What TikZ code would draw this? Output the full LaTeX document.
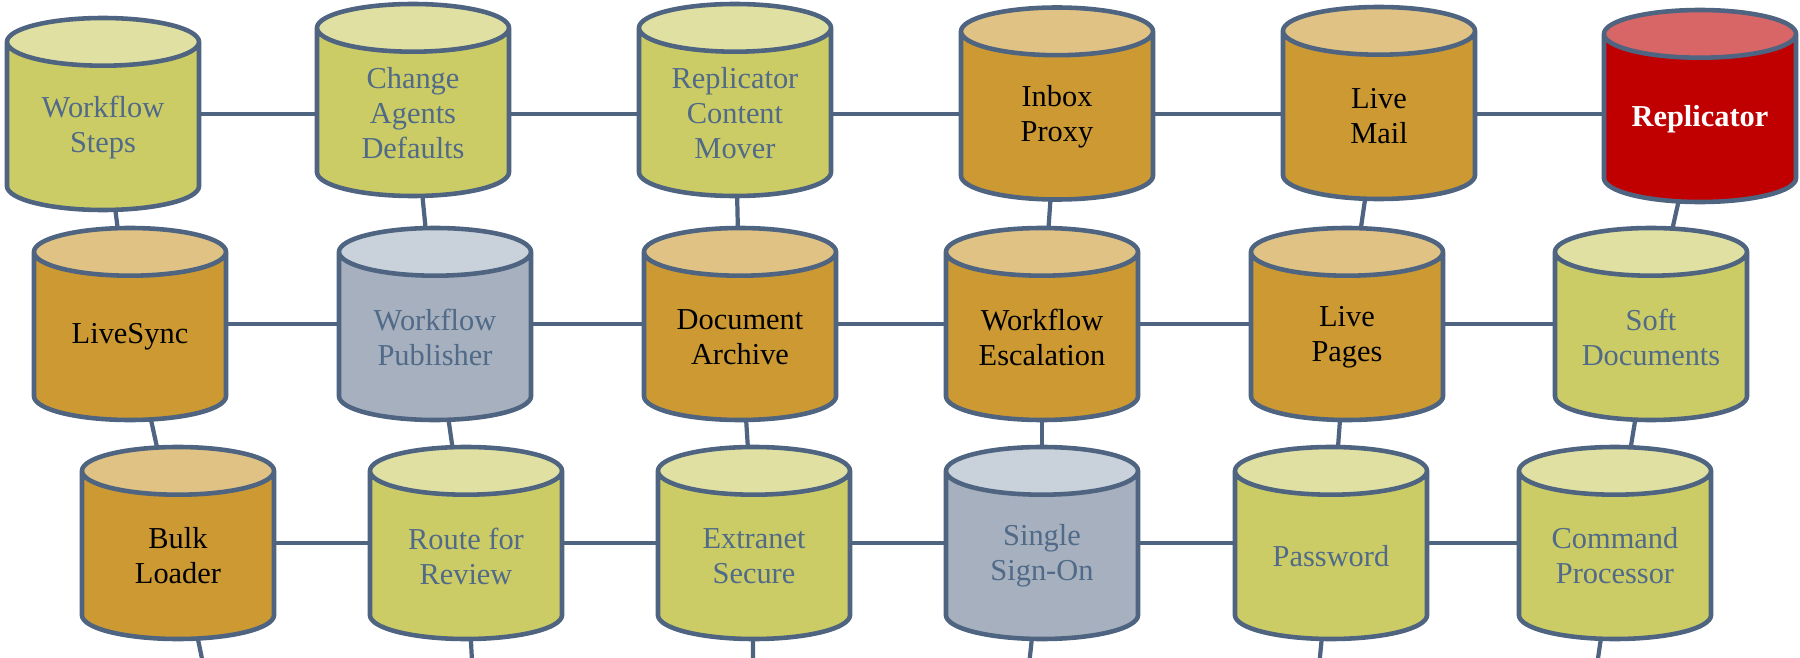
\documentclass[tikz,border=0pt]{standalone}
\usepackage{fontspec}
\setmainfont{Liberation Serif}
\usetikzlibrary{shapes.geometric,backgrounds}
\definecolor{rim}{HTML}{4E6480}
\definecolor{lbl}{HTML}{506A88}
\definecolor{gbody}{HTML}{CCCC66}
\definecolor{gtop}{HTML}{E0E0A3}
\definecolor{obody}{HTML}{CC9933}
\definecolor{otop}{HTML}{E0C285}
\definecolor{sbody}{HTML}{A6B0BE}
\definecolor{stopc}{HTML}{C9D1DB}
\definecolor{rbody}{HTML}{C00000}
\definecolor{rtop}{HTML}{D96666}

\begin{document}
\begin{tikzpicture}[dnode/.style={cylinder, shape border rotate=90, aspect=0.265, draw=rim, line width=1.3pt, text width=1.8cm, minimum width=1.92cm, minimum height=1.92cm, inner sep=0pt, align=flush center, anchor=shape center, cylinder uses custom fill, font=\fontsize{8.65}{9.96}\selectfont},
  gnode/.style={dnode, cylinder body fill=gbody, cylinder end fill=gtop, text=lbl},
  onode/.style={dnode, cylinder body fill=obody, cylinder end fill=otop, text=black},
  snode/.style={dnode, cylinder body fill=sbody, cylinder end fill=stopc, text=lbl},
  rnode/.style={dnode, cylinder body fill=rbody, cylinder end fill=rtop, text=white, font=\fontsize{8.65}{9.96}\selectfont\bfseries},
  link/.style={draw=rim, line width=1.2pt}]
    \useasboundingbox (0,0) rectangle (18,-6.58);

    \node[gnode] (a1) at (1.03,-1.14) {Workflow\\Steps};
    \node[gnode] (a2) at (4.13,-1.00) {Change\\Agents\\Defaults};
    \node[gnode] (a3) at (7.35,-1.00) {Replicator\\Content\\Mover};
    \node[onode] (a4) at (10.57,-1.035) {Inbox\\Proxy};
    \node[onode] (a5) at (13.79,-1.03) {Live\\Mail};
    \node[rnode] (a6) at (17.00,-1.06) {Replicator};

    \node[onode] (b1) at (1.30,-3.24) {LiveSync};
    \node[snode] (b2) at (4.35,-3.24) {Workflow\\Publisher};
    \node[onode] (b3) at (7.40,-3.24) {Document\\Archive};
    \node[onode] (b4) at (10.42,-3.24) {Workflow\\Escalation};
    \node[onode] (b5) at (13.47,-3.24) {Live\\Pages};
    \node[gnode] (b6) at (16.51,-3.24) {Soft\\Documents};

    \node[onode] (c1) at (1.78,-5.43) {Bulk\\Loader};
    \node[gnode] (c2) at (4.66,-5.43) {Route for\\Review};
    \node[gnode] (c3) at (7.54,-5.43) {Extranet\\Secure};
    \node[snode] (c4) at (10.42,-5.43) {Single\\Sign-On};
    \node[gnode] (c5) at (13.31,-5.43) {Password};
    \node[gnode] (c6) at (16.15,-5.43) {Command\\Processor};

    % next row, below the cut
    \coordinate (d1) at (2.23,-7.6);
    \coordinate (d2) at (4.77,-7.6);
    \coordinate (d3) at (7.52,-7.6);
    \coordinate (d4) at (10.19,-7.6);
    \coordinate (d5) at (13.10,-7.6);
    \coordinate (d6) at (15.83,-7.6);

   \begin{scope}[on background layer]
    \draw[link] (a1.shape center) -- (a1.shape center -| a2.shape center);
    \draw[link] (a1.shape center -| a2.shape center) -- (a1.shape center -| a3.shape center);
    \draw[link] (a1.shape center -| a3.shape center) -- (a1.shape center -| a4.shape center);
    \draw[link] (a1.shape center -| a4.shape center) -- (a1.shape center -| a5.shape center);
    \draw[link] (a1.shape center -| a5.shape center) -- (a1.shape center -| a6.shape center);

    \draw[link] (b1.shape center) -- (b2.shape center);
    \draw[link] (b2.shape center) -- (b3.shape center);
    \draw[link] (b3.shape center) -- (b4.shape center);
    \draw[link] (b4.shape center) -- (b5.shape center);
    \draw[link] (b5.shape center) -- (b6.shape center);

    \draw[link] (c1.shape center) -- (c2.shape center);
    \draw[link] (c2.shape center) -- (c3.shape center);
    \draw[link] (c3.shape center) -- (c4.shape center);
    \draw[link] (c4.shape center) -- (c5.shape center);
    \draw[link] (c5.shape center) -- (c6.shape center);

    \draw[link] (a1.shape center) -- (b1.shape center);
    \draw[link] (a2.shape center) -- (b2.shape center);
    \draw[link] (a3.shape center) -- (b3.shape center);
    \draw[link] (a4.shape center) -- (b4.shape center);
    \draw[link] (a5.shape center) -- (b5.shape center);
    \draw[link] (a6.shape center) -- (b6.shape center);

    \draw[link] (b1.shape center) -- (c1.shape center);
    \draw[link] (b2.shape center) -- (c2.shape center);
    \draw[link] (b3.shape center) -- (c3.shape center);
    \draw[link] (b4.shape center) -- (c4.shape center);
    \draw[link] (b5.shape center) -- (c5.shape center);
    \draw[link] (b6.shape center) -- (c6.shape center);

    \draw[link] (c1.shape center) -- (d1);
    \draw[link] (c2.shape center) -- (d2);
    \draw[link] (c3.shape center) -- (d3);
    \draw[link] (c4.shape center) -- (d4);
    \draw[link] (c5.shape center) -- (d5);
    \draw[link] (c6.shape center) -- (d6);
   \end{scope}
\end{tikzpicture}
\end{document}
